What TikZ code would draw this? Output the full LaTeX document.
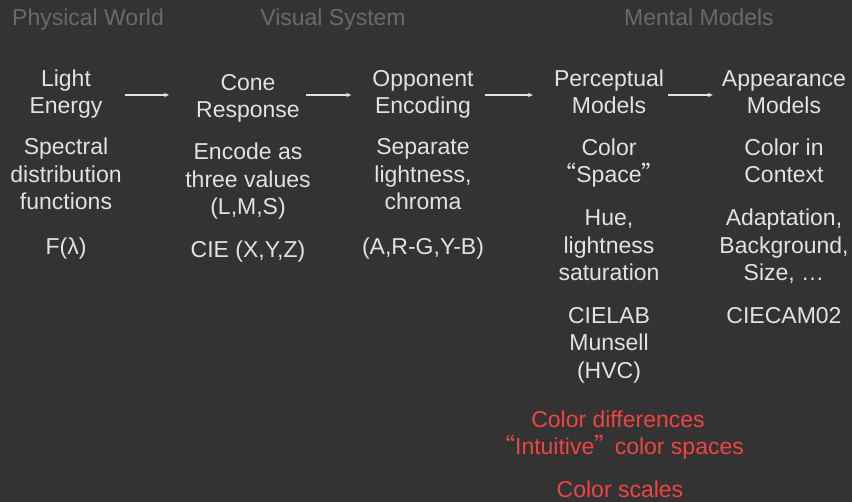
\documentclass[tikz,border=0pt]{standalone}
\usepackage{fontspec}
\setmainfont{Liberation Sans}
\newfontfamily\cjkq{Noto Sans CJK SC}
\usetikzlibrary{arrows.meta}
\definecolor{bg}{HTML}{333333}
\definecolor{fg}{HTML}{E2E2E2}
\definecolor{hd}{HTML}{6A6A6A}
\definecolor{hot}{HTML}{F04444}
% multi-line nodes are placed by the baseline of their last line
\tikzset{
  txt/.style={text=fg, font=\fontsize{23}{27.5}\selectfont, align=center, anchor=base, inner sep=0pt},
  title/.style={txt, font=\fontsize{23}{26.5}\selectfont},
  head/.style={txt, text=hd},
  note/.style={txt, text=hot, font=\fontsize{23}{26.5}\selectfont},
  arr/.style={draw=fg, line width=1.3pt, -{Stealth[length=5pt,width=4.5pt]}}
}
\newcommand{\oq}{{\cjkq “}}
\newcommand{\cq}{{\cjkq ”}}
\begin{document}
\begin{tikzpicture}[x=1pt,y=-1pt]
  \fill[bg] (0,0) rectangle (852,502);
  \useasboundingbox (0,0) rectangle (852,502);

  % stage headings
  \node[head] (phys) at (88,26) {Physical World};
  \node[head] (vis)  at (333,26) {Visual System};
  \node[head] (ment) at (699,26) {Mental Models};

  % stage titles
  \node[title] (light) at (66,113.5)  {Light\\Energy};
  \node[title] (cone)  at (248,117.5) {Cone\\Response};
  \node[title] (opp)   at (423,113.5) {Opponent\\Encoding};
  \node[title] (perc)  at (609,113.5) {Perceptual\\Models};
  \node[title] (app)   at (784,113.5) {Appearance\\Models};

  % arrows between the stages
  \coordinate (row) at (0,95);
  \draw[arr, shorten <=22pt, shorten >=27pt] (light.east |- row) -- (cone.west |- row);
  \draw[arr, shorten <=6pt, shorten >=21pt] (cone.east |- row) -- (opp.west |- row);
  \draw[arr, shorten <=11pt, shorten >=21pt] (opp.east |- row) -- (perc.west |- row);
  \draw[arr, shorten <=4pt, shorten >=9pt] (perc.east |- row) -- (app.west |- row);

  % descriptions
  \node[txt] (lightd) at (66,210)  {Spectral\\distribution\\functions};
  \node[txt] (coned)  at (248,215) {Encode as\\three values\\(L,M,S)};
  \node[txt] (oppd)   at (423,210) {Separate\\lightness,\\chroma};
  \node[txt] (percd)  at (609,183) {Color\\\oq Space\cq};
  \node[txt] (appd)   at (784,183) {Color in\\Context};

  \node[txt] (percq)  at (609,281) {Hue,\\lightness\\saturation};
  \node[txt] (appq)   at (784,281) {Adaptation,\\Background,\\Size, …};

  % notation / standards
  \node[txt] (lightn) at (66,255)  {F(λ)};
  \node[txt] (conen)  at (248,258) {CIE (X,Y,Z)};
  \node[txt] (oppn)   at (423,255) {(A,R-G,Y-B)};
  \node[txt] (percn)  at (609,378.5) {CIELAB\\Munsell\\(HVC)};
  \node[txt] (appn)   at (784,323.5) {CIECAM02};

  % applications
  \node[note] (uses)   at (618,454.5) {Color differences\\\oq Intuitive\cq\kern-9pt\ color spaces};
  \node[note] (scales) at (620,498) {Color scales};
\end{tikzpicture}
\end{document}
